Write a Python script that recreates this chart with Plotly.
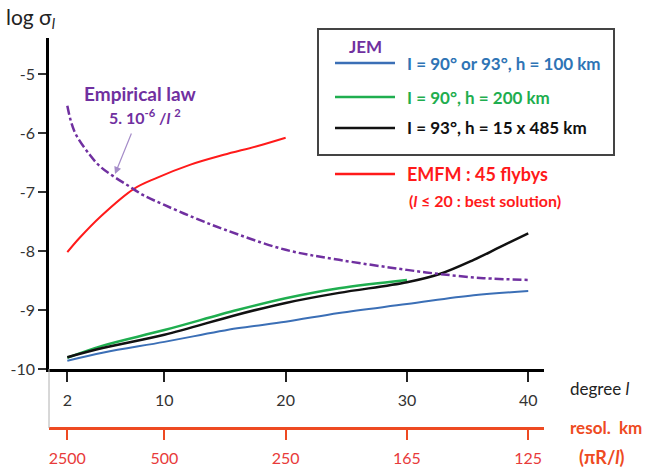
import plotly.graph_objects as go

# ---------------- data ----------------
degree_ticks = [2, 10, 20, 30, 40]
resol_labels = ["2500", "500", "250", "165", "125"]
y_ticks = [-5, -6, -7, -8, -9, -10]
y_tick_labels = ["-5", "-6", "-7", "-8", "-9", "-10"]

jem100_l = [2, 5, 10, 16, 20, 24.4, 30, 35.5, 40]
jem100_v = [-9.86, -9.72, -9.54, -9.31, -9.20, -9.05, -8.90, -8.75, -8.68]

jem200_l = [2, 5, 10, 16, 20, 24.4, 30]
jem200_v = [-9.81, -9.60, -9.34, -9.00, -8.80, -8.63, -8.49]

jem485_l = [2, 5, 10, 16, 20, 24.4, 30, 32.7, 35.5, 37.7, 40]
jem485_v = [-9.80, -9.64, -9.42, -9.08, -8.88, -8.71, -8.53, -8.39, -8.15, -7.93, -7.70]

emfm_l = [2, 3, 4.77, 7.46, 9.38, 12.1, 14.9, 17.7, 20]
emfm_v = [-8.02, -7.78, -7.41, -6.95, -6.76, -6.54, -6.37, -6.22, -6.08]

emp_l = [2, 2.6, 3.85, 4.77, 5.92, 7.08, 8.23, 10, 12.5, 15, 20, 24.4, 30, 32.7, 36.3, 40]
emp_v = [-5.54, -5.98, -6.37, -6.58, -6.75, -6.90, -7.05, -7.22, -7.44, -7.64, -7.98,
         -8.15, -8.32, -8.39, -8.46, -8.49]

# ---------------- styling ----------------
W, H = 652, 471
ML, MR, MT, MB = 49, 108, 38, 43
PW, PH = W - ML - MR, H - MT - MB
FONT = "Lato"
BLUE, GREEN, BLACK, RED, PURPLE = "#3b6fb6", "#1fae4f", "#111111", "#ff1a1a", "#7030a0"
ORANGE = "#ee4a22"

def px(x):
    return (x - ML) / PW

def py(y):
    return (H - MB - y) / PH

ydom0 = py(369)

fig = go.Figure()
line_specs = [
    (jem100_l, jem100_v, BLUE, 2, "solid"),
    (jem200_l, jem200_v, GREEN, 2.5, "solid"),
    (jem485_l, jem485_v, BLACK, 2.5, "solid"),
    (emfm_l, emfm_v, RED, 2, "solid"),
    (emp_l, emp_v, PURPLE, 2.5, "dashdot"),
]
for lx, lv, c, w, d in line_specs:
    fig.add_trace(go.Scatter(x=lx, y=lv, mode="lines",
                             line=dict(color=c, width=w, dash=d, shape="spline", smoothing=1.0),
                             showlegend=False, hoverinfo="skip"))
# invisible trace to carry the resolution axis
fig.add_trace(go.Scatter(x=degree_ticks, y=[-10] * 5, xaxis="x2", mode="markers",
                         marker=dict(opacity=0), showlegend=False, hoverinfo="skip"))

xr = [0.49, 41.3]
fig.update_layout(
    width=W, height=H,
    margin=dict(l=ML, r=MR, t=MT, b=MB, autoexpand=False),
    paper_bgcolor="white", plot_bgcolor="white",
    font=dict(family=FONT, size=15, color="#333"),
    xaxis=dict(range=xr, tickvals=degree_ticks, showgrid=False, zeroline=False,
               showline=True, linecolor="black", linewidth=2.5, automargin=False,
               ticks="outside", ticklen=10, tickwidth=2, tickcolor="#222",
               ticklabelstandoff=5, tickfont=dict(size=16, color="#333"),
               anchor="y"),
    xaxis2=dict(range=xr, tickvals=degree_ticks, ticktext=resol_labels, overlaying="x",
                anchor="free", position=0, side="bottom", showgrid=False, zeroline=False,
                showline=True, linecolor=ORANGE, linewidth=2.5, automargin=False,
                ticks="outside", ticklen=10, tickwidth=2, tickcolor=ORANGE,
                ticklabelstandoff=5, tickfont=dict(size=16, color="#e83a3a")),
    yaxis=dict(range=[-10, -4.39], domain=[ydom0, 1], tickvals=y_ticks,
               ticktext=y_tick_labels, automargin=False,
               showgrid=False, zeroline=False, showline=True, linecolor="black",
               linewidth=2.5, ticks="outside", ticklen=8, tickwidth=1.5, tickcolor="#333",
               tickfont=dict(size=16, color="#333")),
)

shapes = []
# connector between axes
shapes.append(dict(type="line", xref="paper", yref="paper", x0=0, x1=0, y0=0, y1=ydom0,
                   line=dict(color="#b0b0b0", width=1)))
# legend box
shapes.append(dict(type="rect", xref="paper", yref="paper", x0=px(318), x1=px(614),
                   y0=py(155), y1=py(29), line=dict(color="#444", width=2)))
for yy, c in [(63, BLUE), (97, GREEN), (128, BLACK), (174, RED)]:
    shapes.append(dict(type="line", xref="paper", yref="paper", x0=px(335), x1=px(395),
                       y0=py(yy), y1=py(yy), line=dict(color=c, width=2.5)))
fig.update_layout(shapes=shapes)

def ann(text, x, y, color, size=15, bold=True, xanchor="left"):
    t = f"<b>{text}</b>" if bold else text
    return dict(text=t, x=px(x), y=py(y), xref="paper", yref="paper", showarrow=False,
                xanchor=xanchor, yanchor="middle", font=dict(family=FONT, size=size, color=color))

anns = [
    ann("log σ<sub><i>l</i></sub>", 4, 18, "#222", size=21, bold=False),
    ann("degree <i>l</i>", 568, 388, "#222", size=17, bold=False),
    ann("resol.  km", 568, 427, ORANGE, size=17),
    ann("(πR/<i>l</i>)", 577, 457, ORANGE, size=18),
    ann("Empirical law", 82, 93, PURPLE, size=19),
    ann("5. 10<sup>-6</sup> /<i>l</i> <sup>2</sup>", 107, 117, PURPLE, size=16),
    ann("JEM", 347, 46, PURPLE, size=17),
    ann("I = 90° or 93°, h = 100 km", 405, 63, "#2e74b5", size=17),
    ann("I = 90°, h = 200 km", 405, 97, "#1fae4f", size=17),
    ann("I = 93°, h = 15 x 485 km", 405, 128, "#111", size=17),
    ann("EMFM : 45 flybys", 405, 174, RED, size=18),
    ann("(<i>l</i> ≤ 20 : best solution)", 407, 200, RED, size=16),
]
anns.append(dict(text="", x=px(115), y=py(174), xref="paper", yref="paper",
                 ax=17, ay=-42, axref="pixel", ayref="pixel",
                 showarrow=True, arrowhead=2, arrowsize=1.2, arrowwidth=1.2,
                 arrowcolor="#a58cc8"))
fig.update_layout(annotations=anns)

fig.write_html("out.html", config={"displayModeBar": False},
               post_script="document.body.style.margin='0px';")
